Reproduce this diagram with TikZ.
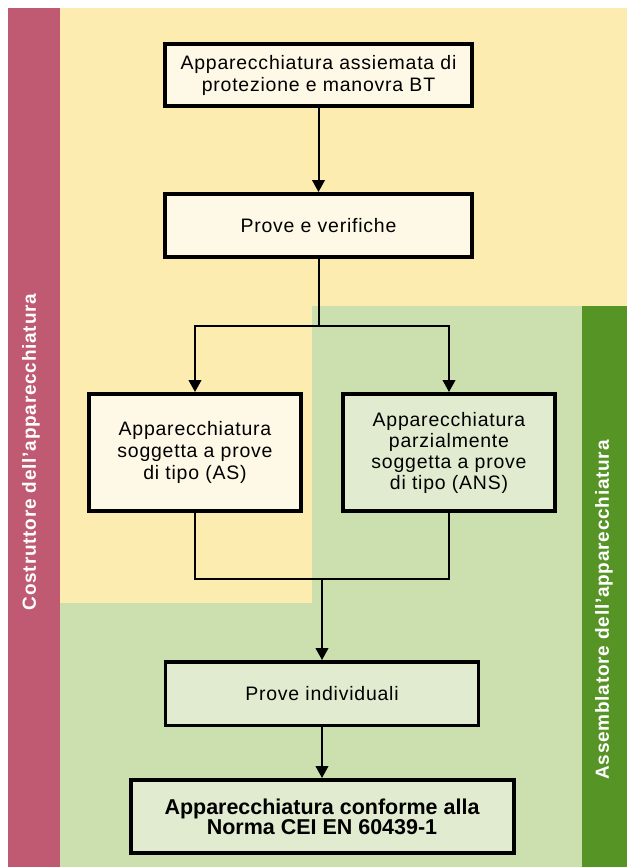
\documentclass[tikz,border=0pt]{standalone}
\usepackage{fontspec}
\setmainfont{Liberation Sans}
\newfontfamily\spaced{Liberation Sans}[LetterSpace=4]
\usetikzlibrary{arrows.meta}
\definecolor{bgyellow}{RGB}{253,236,176}
\definecolor{bggreen}{RGB}{204,223,174}
\definecolor{bandred}{RGB}{192,90,115}
\definecolor{banddark}{RGB}{86,148,38}
\definecolor{boxcream}{RGB}{254,248,231}
\definecolor{boxgreen}{RGB}{224,235,207}
\tikzset{
  box/.style={draw=black, line width=3pt, inner sep=0pt, align=center,
    font=\spaced\fontsize{14.6pt}{16.5pt}\selectfont},
  conn/.style={line width=1.5pt, black},
  arr/.style={conn, -{Triangle[width=9.5pt,length=9pt]}},
  bandlabel/.style={rotate=90, text=white, inner sep=0pt,
    font=\spaced\bfseries\fontsize{14.25pt}{16pt}\selectfont}
}
\begin{document}
\begin{tikzpicture}[x=0.75pt,y=-0.75pt]
% background and margins
\fill[white] (0,0) rectangle (627,867);
\useasboundingbox (0,0) rectangle (627,867);
\fill[bgyellow] (60,8) rectangle (627,867);
\fill[bggreen] (312,306) -- (582,306) -- (582,867) -- (60,867) -- (60,603) -- (312,603) -- cycle;
\fill[bandred] (8,8) rectangle (60,867);
\fill[banddark] (582,306) rectangle (627,867);
\node[bandlabel] (lcostr) at (31,452) {Costruttore dell’apparecchiatura};
\node[bandlabel] (lassem) at (604,610) {Assemblatore dell’apparecchiatura};
% boxes
\node[box, fill=boxcream, minimum width=230.25pt, minimum height=46.5pt] (b1) at (318.5,75)
  {Apparecchiatura assiemata di\\protezione e manovra BT};
\node[box, fill=boxcream, minimum width=230.25pt, minimum height=47.25pt] (b2) at (318.5,225.5)
  {Prove e verifiche};
\node[box, fill=boxcream, minimum width=159pt, minimum height=87.75pt] (as) at (195,452.5)
  {Apparecchiatura\\soggetta a prove\\di tipo (AS)};
\node[box, fill=boxgreen, minimum width=159pt, minimum height=87.75pt,
  font=\spaced\fontsize{14.6pt}{15.75pt}\selectfont] (ans) at (449,452.5)
  {Apparecchiatura\\parzialmente\\soggetta a prove\\di tipo (ANS)};
\node[box, fill=boxgreen, line width=2.6pt, minimum width=234.4pt, minimum height=47.6pt] (pi) at (322,693.5)
  {Prove individuali};
\node[box, fill=boxgreen, minimum width=287.25pt, minimum height=54.75pt,
  font=\bfseries\fontsize{16.1pt}{15pt}\selectfont] (fin) at (322,816.5)
  {Apparecchiatura conforme alla\\Norma CEI EN 60439-1};
% connectors
\coordinate (split) at (318.5,326);
\coordinate (merge) at (322,579);
\draw[arr] (b1) -- (b2);
\draw[conn] (b2.south) -- (split);
\draw[arr] (split) -| (as.north);
\draw[arr] (split) -| (ans.north);
\draw[conn] (as.south) |- (merge);
\draw[conn] (ans.south) |- (merge);
\draw[arr] (merge) -- (pi.north);
\draw[arr] (pi) -- (fin);
\end{tikzpicture}
\end{document}
